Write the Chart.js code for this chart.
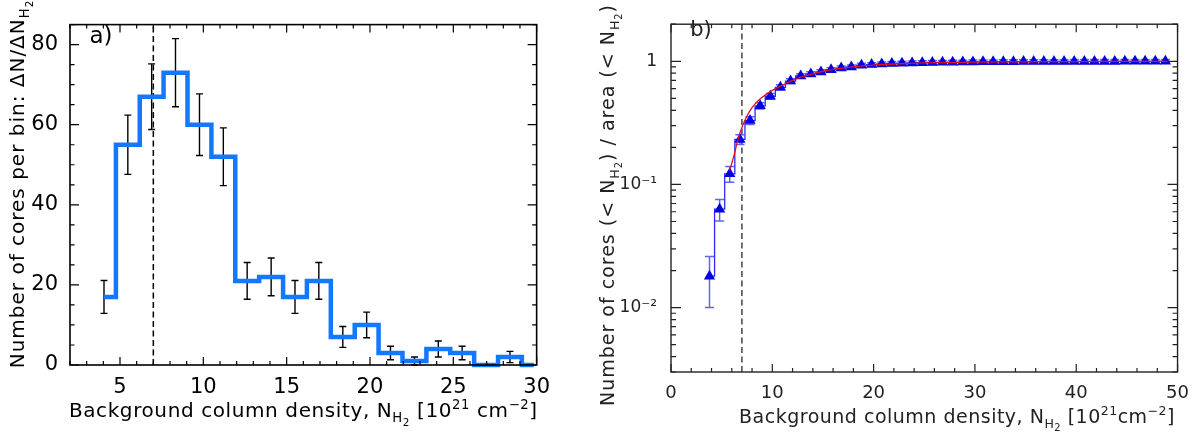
<!DOCTYPE html>
<html><head><meta charset="utf-8">
<script src="https://cdn.jsdelivr.net/npm/chart.js@4.4.1/dist/chart.umd.min.js"></script>
<style>
html,body{margin:0;padding:0;background:#fff;width:1200px;height:435px;overflow:hidden}
canvas{position:absolute;top:0}
#c1{left:0px}
#c2{left:580px}
</style></head><body>
<canvas id="c1" width="560" height="435"></canvas>
<canvas id="c2" width="620" height="435"></canvas>
<script>
// ---------- Panel a) : histogram ----------
const HIST_X   = [4.04, 5.47, 6.9, 8.33, 9.77, 11.2, 12.63, 14.07, 15.5, 16.93, 18.37, 19.8, 21.23, 22.67, 24.1, 25.53, 26.97, 28.4, 29.83];
const HIST_N   = [17, 55, 67, 73, 60, 52, 21, 22, 17, 21, 7, 10, 3, 1, 4, 3, 0, 2, 0];
const HIST_ERR = [4.1, 7.4, 8.2, 8.5, 7.7, 7.2, 4.6, 4.7, 4.1, 4.6, 2.6, 3.2, 1.7, 1.0, 2.0, 1.7, 0, 1.4, 0];
const A_X_TICKS = [5, 10, 15, 20, 25, 30];
const A_X_MINOR = [2,3,4,6,7,8,9,11,12,13,14,16,17,18,19,21,22,23,24,26,27,28,29];
const A_Y_TICKS = [0, 20, 40, 60, 80];
const A_Y_MINOR = [5,10,15,25,30,35,45,50,55,65,70,75,85];

// ---------- Panel b) : cumulative ----------
const CUM_X = [3.8,4.8,5.8,6.8,7.8,8.8,9.8,10.8,11.8,12.8,13.8,14.8,15.8,16.8,17.8,18.8,19.8,20.8,21.8,22.8,23.8,24.8,25.8,26.8,27.8,28.8,29.8,30.8,31.8,32.8,33.8,34.8,35.8,36.8,37.8,38.8,39.8,40.8,41.8,42.8,43.8,44.8,45.8,46.8,47.8,48.8];
const CUM_Y = [0.018,0.063,0.122,0.232,0.33,0.435,0.52,0.615,0.69,0.76,0.79,0.82,0.855,0.88,0.90,0.93,0.94,0.95,0.96,0.965,0.97,0.975,0.978,0.981,0.984,0.986,0.988,0.99,0.991,0.992,0.993,0.994,0.995,0.995,0.996,0.996,0.997,0.997,0.998,0.998,0.998,0.999,0.999,0.999,1.0,1.0];
const CUM_ERR = [0.008,0.0125,0.018,0.021,0.024,0.026,0.028,0.03,0.031,0.032,0.032,0.033,0.033,0.034,0.034,0.035,0.035,0.035,0.035,0.035,0.035,0.035,0.035,0.035,0.035,0.035,0.035,0.035,0.035,0.035,0.035,0.035,0.035,0.035,0.035,0.035,0.035,0.035,0.035,0.035,0.035,0.035,0.035,0.035,0.035,0.035];
const FIT_X = [5.8,6.2,6.6,7.0,7.5,8.0,8.5,9,10,11,12,13,14,15,16,18,20,22,25,30,35,40,45,49];
const FIT_Y = [0.13,0.17,0.23,0.29,0.36,0.42,0.47,0.51,0.58,0.64,0.70,0.75,0.79,0.83,0.86,0.90,0.93,0.95,0.97,0.985,0.99,0.995,0.998,1.0];
const B_X_TICKS = [0, 10, 20, 30, 40, 50];
const B_X_MINOR = [2,4,6,8,12,14,16,18,22,24,26,28,32,34,36,38,42,44,46,48];
const B_Y_TICKS = [0.01, 0.1, 1];
const B_Y_LABELS = ['10\u207B\u00B2', '10\u207B\u00B9', '1'];
const B_Y_MINOR = [0.003,0.004,0.005,0.006,0.007,0.008,0.009,0.02,0.03,0.04,0.05,0.06,0.07,0.08,0.09,0.2,0.3,0.4,0.5,0.6,0.7,0.8,0.9,2];
const THRESHOLD = 7;

// ---------- helpers ----------
function richText(ctx, parts, x, y, size, family, color, rotate, spacing) {
  const sc = {'0':1, '1':0.66, '-1':0.66, '-2':0.52};
  const off = {'0':0, '1':-0.42, '-1':0.26, '-2':0.44};
  ctx.save();
  ctx.translate(x, y);
  if (rotate) ctx.rotate(rotate);
  ctx.fillStyle = color; ctx.textBaseline = 'alphabetic'; ctx.textAlign = 'left';
  ctx.letterSpacing = (spacing || 0) + 'px';
  let w = 0; const ms = [];
  for (const [t, l] of parts) {
    ctx.font = (size * sc[l]).toFixed(1) + 'px ' + family;
    const m = ctx.measureText(t).width; ms.push(m); w += m;
  }
  let cx = -w / 2; const base = size * 0.36;
  parts.forEach(([t, l], i) => {
    ctx.font = (size * sc[l]).toFixed(1) + 'px ' + family;
    ctx.fillText(t, cx, base + off[l] * size);
    cx += ms[i];
  });
  ctx.restore();
}

function frameTicks(chart, o) {
  const ctx = chart.ctx, a = chart.chartArea, xs = chart.scales.x, ys = chart.scales.y;
  ctx.save();
  ctx.strokeStyle = o.frameColor; ctx.lineWidth = o.frameWidth;
  ctx.strokeRect(a.left, a.top, a.right - a.left, a.bottom - a.top);
  ctx.lineWidth = 1.2;
  ctx.beginPath();
  const vx = (vals, len) => vals.forEach(v => {
    const p = xs.getPixelForValue(v);
    ctx.moveTo(p, a.bottom); ctx.lineTo(p, a.bottom - len);
    ctx.moveTo(p, a.top); ctx.lineTo(p, a.top + len);
  });
  const vy = (vals, len) => vals.forEach(v => {
    const p = ys.getPixelForValue(v);
    if (p < a.top - 0.5 || p > a.bottom + 0.5) return;
    ctx.moveTo(a.left, p); ctx.lineTo(a.left + len, p);
    ctx.moveTo(a.right, p); ctx.lineTo(a.right - len, p);
  });
  vx(o.xMajor, o.xMajLen); vx(o.xMinor, o.xMinLen);
  vy(o.yMajor, o.yMajLen); vy(o.yMinor, o.yMinLen);
  ctx.stroke();
  ctx.restore();
}

function dashed(chart, color) {
  const ctx = chart.ctx, a = chart.chartArea, p = chart.scales.x.getPixelForValue(THRESHOLD);
  ctx.save(); ctx.strokeStyle = color; ctx.lineWidth = 1.5; ctx.setLineDash([6, 3.5]);
  ctx.beginPath(); ctx.moveTo(p, a.bottom); ctx.lineTo(p, a.top); ctx.stroke(); ctx.restore();
}

Chart.defaults.animation = false;

// ---------- Chart a ----------
const FONT_A = '"DejaVu Sans"';
new Chart(document.getElementById('c1'), {
  type: 'line',
  data: { datasets: [{
    data: HIST_X.map((x, i) => ({x: x, y: HIST_N[i]})),
    stepped: 'middle', borderColor: '#1478ff', borderWidth: 4.5,
    pointRadius: 0, fill: false, clip: false
  }]},
  options: {
    responsive: false, devicePixelRatio: 1,
    layout: { padding: { left: 0, right: 23, top: 4, bottom: 0 } },
    plugins: { legend: { display: false }, tooltip: { enabled: false } },
    scales: {
      x: { type: 'linear', min: 2, max: 30,
        grid: { display: false, drawTicks: false }, border: { display: false },
        ticks: { font: { family: 'DejaVu Sans', size: 21 }, color: '#000', padding: 10, maxRotation: 0 },
        afterBuildTicks: s => { s.ticks = A_X_TICKS.map(v => ({value: v})); },
        afterFit: s => { s.height = 70; } },
      y: { type: 'linear', min: 0, max: 85,
        grid: { display: false, drawTicks: false }, border: { display: false },
        ticks: { font: { family: 'DejaVu Sans', size: 21 }, color: '#000', padding: 12 },
        afterBuildTicks: s => { s.ticks = A_Y_TICKS.map(v => ({value: v})); },
        afterFit: s => { s.width = 70; } }
    }
  },
  plugins: [{
    id: 'decorA',
    beforeDatasetsDraw(chart) {
      const ctx = chart.ctx, xs = chart.scales.x, ys = chart.scales.y;
      dashed(chart, '#000');
      ctx.save(); ctx.strokeStyle = '#000'; ctx.lineWidth = 1.4; ctx.beginPath();
      HIST_X.forEach((x, i) => {
        const e = HIST_ERR[i]; if (!e) return;
        const px = xs.getPixelForValue(x);
        const lo = ys.getPixelForValue(HIST_N[i] - e), hi = ys.getPixelForValue(HIST_N[i] + e);
        ctx.moveTo(px, lo); ctx.lineTo(px, hi);
        ctx.moveTo(px - 3.5, lo); ctx.lineTo(px + 3.5, lo);
        ctx.moveTo(px - 3.5, hi); ctx.lineTo(px + 3.5, hi);
      });
      ctx.stroke(); ctx.restore();
    },
    afterDraw(chart) {
      frameTicks(chart, { frameColor: '#000', frameWidth: 1.6,
        xMajor: A_X_TICKS, xMinor: A_X_MINOR, yMajor: A_Y_TICKS, yMinor: A_Y_MINOR,
        xMajLen: 8, xMinLen: 4, yMajLen: 9, yMinLen: 4.5 });
      const ctx = chart.ctx, a = chart.chartArea;
      richText(ctx, [['a)', '0']], 101, 35, 23, FONT_A, '#000', 0, 0);
      richText(ctx, [['Background column density, N', '0'], ['H', '-1'], ['2', '-2'], [' [10', '0'], ['21', '1'], [' cm', '0'], ['\u22122', '1'], [']', '0']],
        (a.left + a.right) / 2, 410, 20, FONT_A, '#000', 0, 0.6);
      richText(ctx, [['Number of cores per bin: \u0394N/\u0394N', '0'], ['H', '-1'], ['2', '-2']],
        17, 184, 20, FONT_A, '#000', -Math.PI / 2, 1);
    }
  }]
});

// ---------- Chart b ----------
new Chart(document.getElementById('c2'), {
  type: 'line',
  data: { datasets: [
    { data: FIT_X.map((x, i) => ({x: x, y: FIT_Y[i]})), borderColor: '#e0101a', borderWidth: 1.3,
      pointRadius: 0, fill: false, cubicInterpolationMode: 'monotone', order: 0 },
    { data: CUM_X.map((x, i) => ({x: x, y: CUM_Y[i]})), stepped: 'middle', borderColor: '#2a2aff', borderWidth: 1.3,
      pointStyle: 'triangle', pointRadius: 6.5, pointBackgroundColor: '#0000e0', pointBorderColor: '#0000e0',
      pointBorderWidth: 0, fill: false, order: 1 }
  ]},
  options: {
    responsive: false, devicePixelRatio: 1,
    layout: { padding: { left: 0, right: 9, top: 5, bottom: 0 } },
    plugins: { legend: { display: false }, tooltip: { enabled: false } },
    scales: {
      x: { type: 'linear', min: 0, max: 50,
        grid: { display: false, drawTicks: false }, border: { display: false },
        ticks: { font: { family: 'DejaVu Sans', size: 18 }, color: '#222', padding: 11, maxRotation: 0 },
        afterBuildTicks: s => { s.ticks = B_X_TICKS.map(v => ({value: v})); },
        afterFit: s => { s.height = 63; } },
      y: { type: 'logarithmic', min: 0.003, max: 2,
        grid: { display: false, drawTicks: false }, border: { display: false },
        ticks: { font: { family: 'DejaVu Sans', size: 17 }, color: '#222', padding: 14,
          callback: (v) => { const i = B_Y_TICKS.findIndex(t => Math.abs(t - v) < 1e-9); return i >= 0 ? B_Y_LABELS[i] : ''; } },
        afterBuildTicks: s => { s.ticks = B_Y_TICKS.map(v => ({value: v})); },
        afterFit: s => { s.width = 91; } }
    }
  },
  plugins: [{
    id: 'decorB',
    beforeDatasetsDraw(chart) {
      const ctx = chart.ctx, xs = chart.scales.x, ys = chart.scales.y;
      dashed(chart, '#444');
      ctx.save(); ctx.strokeStyle = 'rgba(70,70,255,0.85)'; ctx.lineWidth = 1.5; ctx.beginPath();
      CUM_X.forEach((x, i) => {
        const e = CUM_ERR[i];
        const px = xs.getPixelForValue(x), l = xs.getPixelForValue(x - 0.45), r = xs.getPixelForValue(x + 0.45);
        const lo = ys.getPixelForValue(CUM_Y[i] - e), hi = ys.getPixelForValue(CUM_Y[i] + e);
        ctx.moveTo(px, lo); ctx.lineTo(px, hi);
        ctx.moveTo(l, lo); ctx.lineTo(r, lo);
        ctx.moveTo(l, hi); ctx.lineTo(r, hi);
      });
      ctx.stroke(); ctx.restore();
    },
    afterDraw(chart) {
      frameTicks(chart, { frameColor: '#222', frameWidth: 1.4,
        xMajor: B_X_TICKS, xMinor: B_X_MINOR, yMajor: B_Y_TICKS, yMinor: B_Y_MINOR,
        xMajLen: 8, xMinLen: 4, yMajLen: 10, yMinLen: 5 });
      const ctx = chart.ctx, a = chart.chartArea;
      richText(ctx, [['b)', '0']], 121, 28, 21, FONT_A, '#222', 0, 0);
      richText(ctx, [['Background column density, N', '0'], ['H', '-1'], ['2', '-2'], [' [10', '0'], ['21', '1'], ['cm', '0'], ['\u22122', '1'], [']', '0']],
        377, 416, 19, FONT_A, '#222', 0, 0.5);
      richText(ctx, [['Number of cores (< N', '0'], ['H', '-1'], ['2', '-2'], [') / area (< N', '0'], ['H', '-1'], ['2', '-2'], [')', '0']],
        27, 205, 19, FONT_A, '#222', -Math.PI / 2, 1);
    }
  }]
});
</script>
</body></html>
